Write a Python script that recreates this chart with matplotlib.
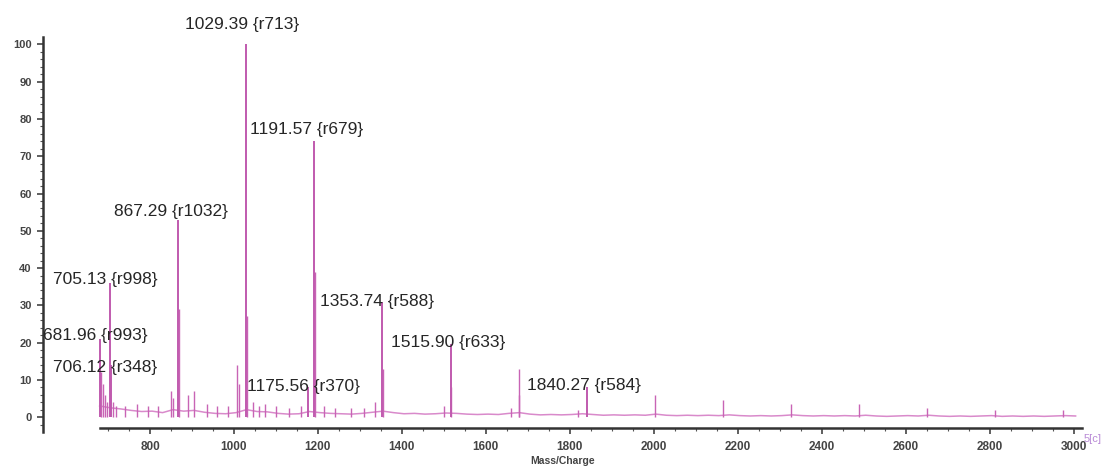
import numpy as np
import matplotlib
matplotlib.use('Agg')
import matplotlib.pyplot as plt
from matplotlib.ticker import FixedLocator

plt.rcParams['font.family'] = ['Liberation Sans', 'DejaVu Sans']

# labelled peaks (m/z, relative intensity)
peak_mz = [681.96, 705.13, 706.12, 867.29, 1029.39, 1175.56, 1191.57, 1353.74, 1515.90, 1840.27]
peak_int = [21, 36, 14, 53, 100, 8, 74, 31, 19.5, 8]
peak_labels = ['681.96 {r993}', '705.13 {r998}', '706.12 {r348}', '867.29 {r1032}',
               '1029.39 {r713}', '1175.56 {r370}', '1191.57 {r679}', '1353.74 {r588}',
               '1515.90 {r633}', '1840.27 {r584}']

# other (unlabelled) peaks
minor_mz = [684, 688, 692, 697, 712, 720, 740, 770, 795, 820, 850, 855, 868.3, 890, 905,
            935, 960, 985, 1008, 1012, 1030.4, 1045, 1060, 1075, 1100, 1130, 1160, 1192.6,
            1215, 1240, 1280, 1310, 1337, 1354.7, 1500, 1516.9, 1660, 1677.9, 1678.9, 1820,
            2002.0, 2164.0, 2326.1, 2488.1, 2650, 2812, 2974]
minor_int = [12, 9, 6, 4, 4, 3, 3, 3.5, 3, 3, 7, 5, 29, 6, 7,
             3.5, 3, 3, 14, 9, 27, 4, 3, 3.5, 3, 2.5, 3, 39,
             3, 2.5, 2.5, 2.5, 4, 13, 3, 8, 2.5, 13, 6, 2,
             6, 4.5, 3.5, 3.5, 2.5, 2, 2]

# noise floor sampled every 25 m/z
base_mz = np.arange(680, 3006, 25)
base_int = [3.0, 2.5, 2.2, 1.8, 1.5, 1.6, 1.2, 2.0, 1.6, 1.8, 1.3, 1.0, 0.9, 1.2, 2.0, 1.5,
            1.4, 1.0, 0.8, 0.9, 1.5, 1.2, 1.0, 0.9, 0.8, 1.0, 1.3, 1.6, 1.2, 0.9, 1.0, 0.8,
            0.9, 1.1, 1.0, 0.8, 0.7, 0.8, 0.7, 1.0, 1.2, 0.8, 0.6, 0.7, 0.6, 0.7, 0.9, 0.7,
            0.5, 0.6, 0.5, 0.6, 0.5, 0.8, 0.5, 0.4, 0.5, 0.4, 0.5, 0.4, 0.6, 0.4, 0.3, 0.4,
            0.3, 0.4, 0.6, 0.4, 0.3, 0.4, 0.3, 0.4, 0.3, 0.5, 0.3, 0.2, 0.3, 0.4, 0.3, 0.5,
            0.3, 0.2, 0.3, 0.2, 0.3, 0.4, 0.2, 0.3, 0.2, 0.3, 0.2, 0.3, 0.4, 0.3]

# label anchor positions (left edge, vertical centre) in data units
label_x = [545, 569, 569, 714, 883, 1031, 1038, 1205, 1374, 1698]
label_y = [22.0, 36.8, 13.4, 55.1, 105.4, 8.1, 77.2, 30.9, 19.9, 8.6]

fig = plt.figure(figsize=(11.1, 4.68), dpi=100)
ax = fig.add_axes([0.0387, 0.0769, 0.936, 0.844])

ax.plot(base_mz, base_int, color='#d98acb', lw=1.1)
ax.vlines(minor_mz, 0, minor_int, color='#c864b5', lw=1.0)
ax.vlines(peak_mz, 0, peak_int, color='#c05aae', lw=1.4)

for txt, tx, ty in zip(peak_labels, label_x, label_y):
    ax.text(tx, ty, txt, ha='left', va='center', fontsize=12.5, color='#262626', clip_on=False)

ax.set_xlim(545, 3020)
ax.set_ylim(-4, 102)

for s in ['top', 'right']:
    ax.spines[s].set_visible(False)
ax.spines['left'].set_linewidth(1.8)
ax.spines['left'].set_color('#333333')
ax.spines['bottom'].set_position(('data', -3))
ax.spines['bottom'].set_bounds(680, 3020)
ax.spines['bottom'].set_linewidth(1.8)
ax.spines['bottom'].set_color('#333333')

ax.set_xticks(np.arange(800, 3001, 200))
ax.xaxis.set_minor_locator(FixedLocator(np.arange(700, 3001, 50)))
ax.set_yticks(np.arange(0, 101, 10))
ax.yaxis.set_minor_locator(FixedLocator(np.arange(-2, 101, 2)))
ax.tick_params(axis='both', which='major', direction='out', length=4, width=1.2,
               color='#444444', labelcolor='#444444')
ax.tick_params(axis='both', which='minor', direction='out', length=2, width=0.8, color='#555555')
ax.tick_params(axis='x', labelsize=8.5, pad=5)
ax.tick_params(axis='y', labelsize=8, pad=4)
for lab in ax.get_xticklabels() + ax.get_yticklabels():
    lab.set_fontweight('bold')

ax.set_xlabel('Mass/Charge', fontsize=7.5, fontweight='bold', color='#444444', labelpad=2)
ax.text(3025, -6, '5[c]', fontsize=8, color='#b98ad6', ha='left', va='center', clip_on=False)

fig.savefig('out.png', dpi=100)
